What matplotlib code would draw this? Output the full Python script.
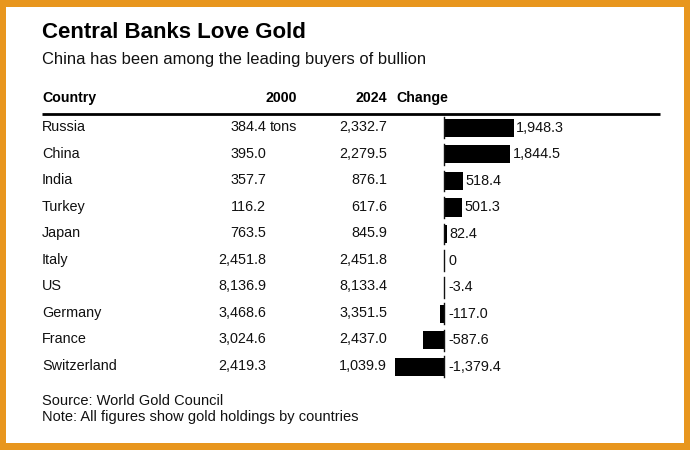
import matplotlib
matplotlib.use("Agg")
import matplotlib.pyplot as plt
from matplotlib.patches import Rectangle

plt.rcParams['font.family'] = ['Liberation Sans', 'DejaVu Sans']

# ---- data ----
countries = ["Russia", "China", "India", "Turkey", "Japan", "Italy", "US",
             "Germany", "France", "Switzerland"]
holdings_2000 = [384.4, 395.0, 357.7, 116.2, 763.5, 2451.8, 8136.9, 3468.6,
                 3024.6, 2419.3]
holdings_2024 = [2332.7, 2279.5, 876.1, 617.6, 845.9, 2451.8, 8133.4, 3351.5,
                 2437.0, 1039.9]
change = [1948.3, 1844.5, 518.4, 501.3, 82.4, 0, -3.4, -117.0, -587.6, -1379.4]
headers = ["Country", "2000", "2024", "Change"]
title = "Central Banks Love Gold"
subtitle = "China has been among the leading buyers of bullion"
footer = ["Source: World Gold Council",
          "Note: All figures show gold holdings by countries"]

W, H = 690, 450
fig = plt.figure(figsize=(W / 100, H / 100), dpi=100)
fig.patch.set_facecolor("#E8961E")

# full-figure pixel axes for text
tx = fig.add_axes([0, 0, 1, 1])
tx.set_xlim(0, W)
tx.set_ylim(H, 0)
tx.axis("off")
tx.patch.set_alpha(0)
tx.add_patch(Rectangle((6, 7), 684 - 6, 443 - 7, facecolor="white",
                       edgecolor="none", zorder=0))

ink = "#111111"
fs = 10.4
tx.text(42, 38.5, title, fontsize=16.0, fontweight="bold", color="black",
        va="baseline", ha="left")
tx.text(42, 64, subtitle, fontsize=11.9, color=ink, va="baseline", ha="left")

hy = 102
tx.text(42, hy, headers[0], fontsize=10.2, fontweight="bold", va="baseline", ha="left")
tx.text(297, hy, headers[1], fontsize=10.2, fontweight="bold", va="baseline", ha="right")
tx.text(387, hy, headers[2], fontsize=10.2, fontweight="bold", va="baseline", ha="right")
tx.text(396, hy, headers[3], fontsize=10.2, fontweight="bold", va="baseline", ha="left")
tx.plot([42, 660], [113.5, 113.5], color="black", lw=2.0, solid_capstyle="butt")

y0, dy = 131, 26.56
for i, c in enumerate(countries):
    y = y0 + i * dy
    tx.text(42, y, c, fontsize=fs, color=ink, va="baseline", ha="left")
    tx.text(266, y, f"{holdings_2000[i]:,.1f}", fontsize=fs, color=ink,
            va="baseline", ha="right")
    if i == 0:
        tx.text(270, y, "tons", fontsize=fs, color=ink, va="baseline", ha="left")
    tx.text(387, y, f"{holdings_2024[i]:,.1f}", fontsize=fs, color=ink,
            va="baseline", ha="right")

tx.text(42, 405, footer[0], fontsize=10.5, color=ink, va="baseline", ha="left")
tx.text(42, 421, footer[1], fontsize=10.5, color=ink, va="baseline", ha="left")

# bar axes: zero at x=444px, ~0.0358 px per ton
px0, px1 = 380, 620
zero_px, scale = 444.3, 0.0358
top_px, bot_px = 114, 380
row0_px = 127.8
bx = fig.add_axes([px0 / W, 1 - bot_px / H, (px1 - px0) / W, (bot_px - top_px) / H])
bx.set_xlim((px0 - zero_px) / scale, (px1 - zero_px) / scale)
bx.set_ylim((bot_px - row0_px) / dy, (top_px - row0_px) / dy)
bx.axis("off")
bx.patch.set_alpha(0)

rows = list(range(len(countries)))
bx.barh(rows, change, height=0.68, color="black", zorder=2)
for r in rows:
    bx.plot([0, 0], [r - 0.39, r + 0.39], color="#111111", lw=1.0, zorder=3)
for r, v in zip(rows, change):
    lab = "0" if v == 0 else f"{v:,.1f}"
    xpos = v if v > 0 else 0
    off = 1.6 if v > 0 else 2.8
    bx.annotate(lab, (xpos, r), xytext=(off, 0), textcoords="offset points",
                ha="left", va="center", fontsize=fs, color=ink)

fig.savefig("out.png", dpi=100)
